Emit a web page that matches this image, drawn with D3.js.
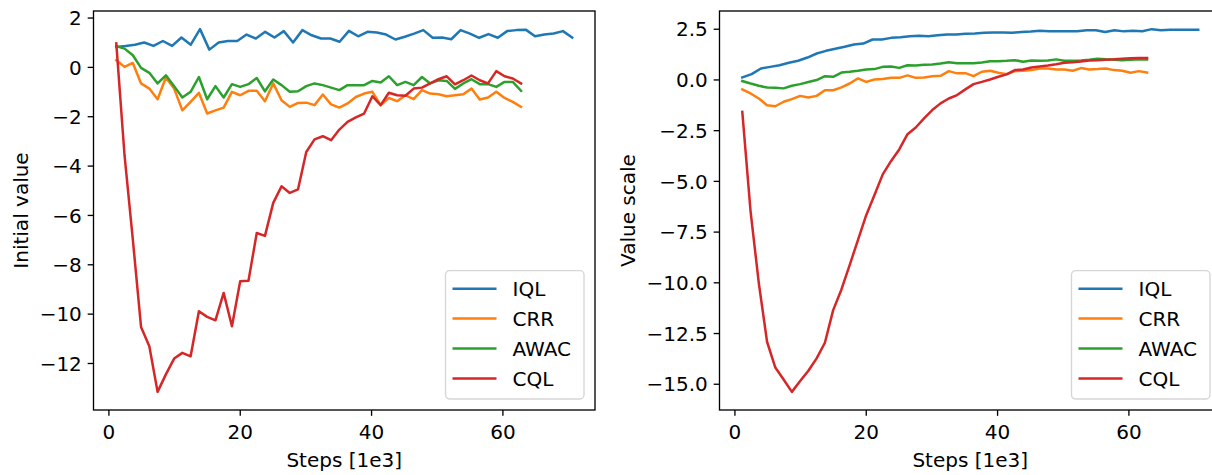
<!DOCTYPE html>
<html>
<head>
<meta charset="utf-8">
<script src="https://cdn.jsdelivr.net/npm/d3@7"></script>
<style>
body { margin: 0; background: #fff; }
svg text { font-family: "DejaVu Sans", sans-serif; fill: #000; }
</style>
</head>
<body>
<script>
var width = 1212,
    height = 475;

// x positions (steps in 1e3): IQL was evaluated less often than the others
var iqlSteps = [1.2, 2.62, 4.03, 5.45, 6.87, 8.29, 9.7, 11.12, 12.54, 13.95, 15.37, 16.79, 18.2, 19.62, 21.04, 22.46, 23.87, 25.29, 26.71, 28.12,
  29.54, 30.96, 32.38, 33.79, 35.21, 36.63, 38.04, 39.46, 40.88, 42.29, 43.71, 45.13, 46.55, 47.96, 49.38, 50.8, 52.21, 53.63, 55.05, 56.46,
  57.88, 59.3, 60.72, 62.13, 63.55, 64.97, 66.38, 67.8, 69.22, 70.63];
var otherSteps = [1.2, 2.46, 3.72, 4.97, 6.23, 7.49, 8.75, 10.01, 11.26, 12.52, 13.78, 15.04, 16.3, 17.55, 18.81, 20.07, 21.33, 22.59, 23.84, 25.1,
  26.36, 27.62, 28.88, 30.13, 31.39, 32.65, 33.91, 35.17, 36.42, 37.68, 38.94, 40.2, 41.46, 42.71, 43.97, 45.23, 46.49, 47.75, 49, 50.26,
  51.52, 52.78, 54.04, 55.29, 56.55, 57.81, 59.07, 60.33, 61.58, 62.84];

var names = ["IQL", "CRR", "AWAC", "CQL"];
var colors = ["#1f77b4", "#ff7f0e", "#2ca02c", "#d62728"];

var xTicks = [0, 20, 40, 60];
var initTicks = [-12, -10, -8, -6, -4, -2, 0, 2];
var scaleTicks = [-15, -12.5, -10, -7.5, -5, -2.5, 0, 2.5];

// left panel: initial value
var iqlInit = [0.81, 0.85, 0.90, 0.99, 0.85, 1.05, 0.85, 1.19, 0.90, 1.53, 0.70, 0.99, 1.05, 1.05, 1.31, 1.15, 1.42, 1.19, 1.45, 0.99,
  1.49, 1.28, 1.15, 1.15, 1.02, 1.46, 1.24, 1.42, 1.39, 1.31, 1.11, 1.22, 1.35, 1.49, 1.18, 1.19, 1.12, 1.49, 1.35, 1.18,
  1.33, 1.18, 1.45, 1.49, 1.51, 1.24, 1.31, 1.35, 1.45, 1.19];
var crrInit = [0.27, 0.0, 0.16, -0.67, -0.88, -1.31, -0.43, -0.88, -1.76, -1.42, -1.05, -1.89, -1.76, -1.65, -1.01, -1.15, -0.97, -0.97, -1.39, -0.67,
  -1.35, -1.62, -1.46, -1.45, -1.55, -1.12, -1.52, -1.65, -1.48, -1.22, -1.08, -1.01, -1.55, -1.26, -1.39, -1.15, -1.31, -0.94, -1.08, -1.11,
  -1.19, -1.15, -1.11, -0.88, -1.32, -1.24, -1.01, -1.26, -1.42, -1.62];
var awacInit = [0.84, 0.74, 0.47, -0.04, -0.24, -0.67, -0.34, -0.78, -1.24, -1.01, -0.41, -1.31, -0.78, -1.24, -0.70, -0.81, -0.70, -0.45, -0.99, -0.51,
  -0.74, -1.01, -0.99, -0.78, -0.67, -0.74, -0.84, -0.94, -0.74, -0.74, -0.74, -0.57, -0.63, -0.38, -0.74, -0.61, -0.74, -0.41, -0.67, -0.54,
  -0.57, -0.89, -0.67, -0.50, -0.70, -0.70, -0.81, -0.61, -0.61, -0.97];
var cqlInit = [0.95, -3.6, -7.0, -10.54, -11.32, -13.17, -12.46, -11.82, -11.59, -11.73, -9.9, -10.13, -10.27, -9.16, -10.51, -8.69, -8.67, -6.73, -6.85, -5.51,
  -4.84, -5.11, -4.96, -3.45, -2.94, -2.81, -2.97, -2.54, -2.23, -2.05, -1.89, -1.19, -1.55, -1.05, -1.15, -1.17, -0.88, -0.84, -0.67, -0.5,
  -0.38, -0.71, -0.54, -0.35, -0.54, -0.67, -0.17, -0.38, -0.47, -0.67];

// right panel: value scale
var iqlScale = [0.10, 0.26, 0.54, 0.62, 0.70, 0.82, 0.92, 1.08, 1.28, 1.41, 1.51, 1.61, 1.72, 1.77, 1.97, 1.97, 2.05, 2.08, 2.13, 2.15,
  2.13, 2.18, 2.22, 2.22, 2.25, 2.27, 2.30, 2.32, 2.32, 2.30, 2.34, 2.36, 2.40, 2.38, 2.37, 2.37, 2.38, 2.43, 2.43, 2.34,
  2.42, 2.37, 2.40, 2.38, 2.48, 2.43, 2.45, 2.45, 2.45, 2.45];
var crrScale = [-0.49, -0.69, -0.94, -1.27, -1.32, -1.10, -0.97, -0.81, -0.89, -0.81, -0.53, -0.53, -0.39, -0.20, 0.05, -0.12, 0.0, 0.02, 0.08, 0.08,
  0.20, 0.08, 0.10, 0.16, 0.18, 0.41, 0.30, 0.31, 0.16, 0.38, 0.43, 0.33, 0.26, 0.41, 0.43, 0.46, 0.54, 0.54, 0.49, 0.49,
  0.43, 0.56, 0.49, 0.51, 0.54, 0.46, 0.43, 0.33, 0.41, 0.34];
var awacScale = [-0.08, -0.20, -0.31, -0.40, -0.41, -0.44, -0.31, -0.23, -0.13, -0.03, 0.16, 0.13, 0.34, 0.38, 0.43, 0.49, 0.51, 0.62, 0.64, 0.57,
  0.70, 0.69, 0.72, 0.74, 0.79, 0.85, 0.80, 0.80, 0.80, 0.84, 0.90, 0.90, 0.92, 0.95, 0.87, 0.93, 0.92, 0.93, 0.99, 0.92,
  0.92, 0.93, 0.97, 1.02, 0.99, 0.97, 0.95, 0.97, 1.00, 0.99];
var cqlScale = [-1.60, -6.5, -10.05, -12.93, -14.2, -14.79, -15.40, -14.87, -14.36, -13.75, -12.98, -11.37, -10.35, -9.15, -7.92, -6.69, -5.70, -4.68, -4.03, -3.45,
  -2.70, -2.37, -1.92, -1.51, -1.18, -0.94, -0.77, -0.49, -0.23, -0.12, 0.0, 0.13, 0.25, 0.46, 0.49, 0.59, 0.64, 0.69, 0.75, 0.82,
  0.85, 0.89, 0.93, 0.95, 0.97, 0.99, 1.02, 1.05, 1.06, 1.06];

var svg = d3.select("body").append("svg")
  .attr("width", width)
  .attr("height", height);

var fs = 20;          // 12pt @ 120dpi
var tickLen = 5.83,
    tickPad = 5.83,
    labelPad = 6.67;

function panel(left, yLabel, values, yTicks, yFmt) {
  var top = 11, w = 501.5, h = 399;
  var g = svg.append("g").attr("transform", "translate(" + left + "," + top + ")");
  var stepsFor = [iqlSteps, otherSteps, otherSteps, otherSteps];

  // matplotlib style 5% margins
  var xr = d3.extent(iqlSteps.concat(otherSteps)), xpad = (xr[1] - xr[0]) * 0.05;
  var x = d3.scaleLinear().domain([xr[0] - xpad, xr[1] + xpad]).range([0, w]);
  var yr = d3.extent(d3.merge(values)), ypad = (yr[1] - yr[0]) * 0.05;
  var y = d3.scaleLinear().domain([yr[0] - ypad, yr[1] + ypad]).range([h, 0]);

  var line = d3.line();
  values.forEach(function(vals, k) {
    var steps = stepsFor[k];
    g.append("path")
      .attr("d", line.x(function(d, i) { return x(steps[i]); }).y(function(d) { return y(d); })(vals))
      .attr("fill", "none")
      .attr("stroke", colors[k])
      .attr("stroke-width", 2.5)
      .attr("stroke-linejoin", "round")
      .attr("stroke-linecap", "square");
  });

  var xAxis = g.append("g")
    .attr("transform", "translate(0," + h + ")")
    .call(d3.axisBottom(x).tickValues(xTicks).tickSize(tickLen).tickSizeOuter(0).tickPadding(tickPad));
  xAxis.selectAll("text").attr("dy", null).attr("y", 29).attr("font-size", fs);

  var yAxis = g.append("g")
    .call(d3.axisLeft(y).tickValues(yTicks).tickFormat(d3.format(yFmt)).tickSize(tickLen).tickSizeOuter(0).tickPadding(tickPad));
  yAxis.selectAll("text").attr("dy", "0.36em").attr("font-size", fs);

  [xAxis, yAxis].forEach(function(a) {
    a.select(".domain").remove();
    a.attr("font-family", null);
    a.selectAll("line").attr("stroke", "#000").attr("stroke-width", 1.33);
  });

  g.append("rect")
    .attr("width", w).attr("height", h)
    .attr("fill", "none").attr("stroke", "#000").attr("stroke-width", 1.33);

  g.append("text")
    .attr("x", w / 2).attr("y", 456)
    .attr("text-anchor", "middle")
    .attr("font-size", fs)
    .text("Steps [1e3]");

  var bb = yAxis.node().getBBox();
  var lx = bb.x - labelPad - 4.7;
  g.append("text")
    .attr("transform", "translate(" + lx + "," + (h / 2) + ") rotate(-90)")
    .attr("text-anchor", "middle")
    .attr("font-size", fs)
    .text(yLabel);

  // legend, lower right
  var lw = 138.5, lh = 128.3;
  var leg = g.append("g").attr("transform", "translate(" + (w - 11 - lw) + "," + (h - 11 - lh) + ")");
  leg.append("rect")
    .attr("width", lw).attr("height", lh).attr("rx", 4).attr("ry", 4)
    .attr("fill", "#fff").attr("fill-opacity", 0.8)
    .attr("stroke", "#d6d6d6").attr("stroke-width", 1.33);
  var item = leg.selectAll(".item").data(names).enter().append("g")
    .attr("class", "item")
    .attr("transform", function(d, i) { return "translate(0," + (18 + i * 29.9) + ")"; });
  item.append("line")
    .attr("x1", 7).attr("x2", 51)
    .attr("stroke", function(d, i) { return colors[i]; })
    .attr("stroke-width", 2.5);
  item.append("text")
    .attr("x", 67).attr("y", 7.5)
    .attr("font-size", fs)
    .text(function(d) { return d; });
}

panel(93.5, "Initial value", [iqlInit, crrInit, awacInit, cqlInit], initTicks, "d");
panel(719.5, "Value scale", [iqlScale, crrScale, awacScale, cqlScale], scaleTicks, ".1f");
</script>
</body>
</html>
